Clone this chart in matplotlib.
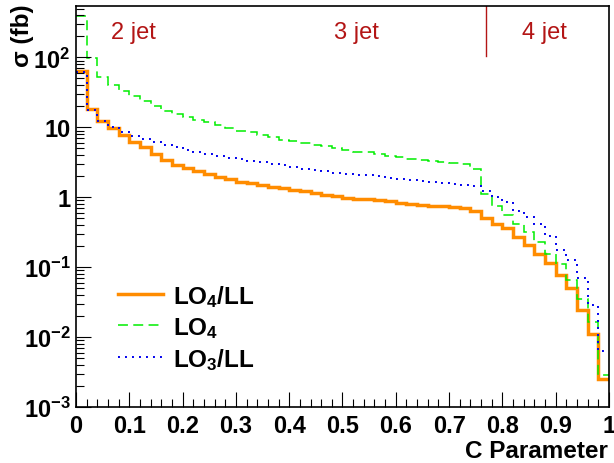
import numpy as np
import matplotlib
matplotlib.use("Agg")
import matplotlib.pyplot as plt
from matplotlib.ticker import FixedLocator, MultipleLocator, LogLocator, NullFormatter

plt.rcParams['font.family'] = ['Liberation Sans', 'DejaVu Sans']
plt.rcParams['font.weight'] = 'bold'
plt.rcParams['mathtext.fontset'] = 'custom'
plt.rcParams['mathtext.bf'] = 'Liberation Sans:bold'
plt.rcParams['mathtext.rm'] = 'Liberation Sans:bold'
plt.rcParams['mathtext.default'] = 'bf'

# C parameter histogram, 50 bins of 0.02
edges = np.linspace(0.0, 1.0, 51)

lo4_ll = [64, 18.4, 12.5, 9.8, 7.8, 6.1, 5.2, 4.1, 3.4, 2.94,
          2.6, 2.37, 2.16, 1.98, 1.8, 1.67, 1.6, 1.52, 1.42, 1.34,
          1.29, 1.22, 1.16, 1.09, 1.04, 0.99, 0.96, 0.93, 0.90, 0.87,
          0.84, 0.80, 0.77, 0.76, 0.75, 0.73, 0.71, 0.64, 0.50, 0.42,
          0.36, 0.27, 0.21, 0.156, 0.113, 0.078, 0.050, 0.0247, 0.011, 0.00255]

lo4 = [390, 98, 53, 40.5, 33.6, 28.5, 24.1, 20.5, 17.4, 15.4,
       14.0, 12.9, 11.9, 10.9, 9.8, 9.0, 8.7, 7.8, 7.2, 6.5,
       6.3, 5.9, 5.6, 5.4, 5.1, 4.8, 4.5, 4.4, 4.2, 3.95,
       3.75, 3.55, 3.4, 3.3, 3.2, 3.1, 3.0, 2.55, 1.12, 0.76,
       0.56, 0.42, 0.32, 0.23, 0.156, 0.11, 0.065, 0.035, 0.0165, 0.0029]

lo3_ll = [62, 18, 12.5, 10, 8.5, 7.6, 6.8, 6.1, 5.6, 5.2,
          4.8, 4.5, 4.2, 3.95, 3.7, 3.5, 3.35, 3.2, 3.0, 2.85,
          2.7, 2.55, 2.47, 2.37, 2.25, 2.13, 2.1, 2.05, 2.0, 1.9,
          1.8, 1.77, 1.73, 1.68, 1.62, 1.57, 1.52, 1.45, 1.23, 1.0,
          0.85, 0.63, 0.52, 0.42, 0.275, 0.175, 0.125, 0.070, 0.0285, 0.0063]

jet_labels = ["2 jet", "3 jet", "4 jet"]
jet_pos = [0.107, 0.527, 0.878]
jet_split = 0.77

xticks = [0, 0.1, 0.2, 0.3, 0.4, 0.5, 0.6, 0.7, 0.8, 0.9, 1]
xlabels = ["0", "0.1", "0.2", "0.3", "0.4", "0.5", "0.6", "0.7", "0.8", "0.9", "1"]
yticks = [1e-3, 1e-2, 1e-1, 1, 10, 100]
ylabels = ["$10^{-3}$", "$10^{-2}$", "$10^{-1}$", "1", "10", "$10^{2}$"]

red = "#b31515"
fs = 17

fig = plt.figure(figsize=(6.14, 4.64), dpi=100)
ax = fig.add_axes([0.1238, 0.1207, 0.8680, 0.8643])

ax.stairs(lo4_ll, edges, color="#ff8c00", lw=2.5, label="LO$_4$/LL", baseline=None)
ax.stairs(lo4, edges, color="#00ee00", lw=1.1, ls=(0, (6.5, 3.5)), label="LO$_4$", baseline=None)
ax.stairs(lo3_ll, edges, color="#0000ee", lw=1.4, ls=(0, (1, 2.6)), label="LO$_3$/LL", baseline=None)

ax.set_yscale("log")
ax.set_xlim(0, 1)
ax.set_ylim(1e-3, 545)

ax.set_xticks(xticks)
ax.set_xticklabels(xlabels, fontsize=fs)
ax.xaxis.set_minor_locator(MultipleLocator(0.02))

ax.yaxis.set_major_locator(FixedLocator(yticks))
ax.set_yticklabels(ylabels, fontsize=fs)
ax.yaxis.set_minor_locator(LogLocator(base=10, subs=np.arange(2, 10)))
ax.yaxis.set_minor_formatter(NullFormatter())

ax.tick_params(which="both", direction="in", top=False, right=False, width=0.8)
ax.tick_params(which="major", length=11)
ax.tick_params(which="minor", length=6)
ax.tick_params(axis="x", which="major", pad=5)
ax.tick_params(axis="y", which="major", pad=4)
for s in ax.spines.values():
    s.set_linewidth(1.2)

for lab, xp in zip(jet_labels, jet_pos):
    ax.text(xp, 0.935, lab, transform=ax.transAxes, color=red, fontsize=fs,
            fontweight="normal", ha="center", va="center")
ax.plot([jet_split, jet_split], [0.875, 1.0], transform=ax.transAxes, color=red, lw=1)

fig.text(0.99, 0.014, "C Parameter", ha="right", va="baseline", fontsize=17.5)
fig.text(0.036, 0.99, "σ (fb)", rotation=90, ha="center", va="top", fontsize=17.5)

ax.legend(loc="upper left", bbox_to_anchor=(0.079, 0.31), frameon=False,
          fontsize=17.5, handlelength=1.85, labelspacing=0.25, handletextpad=0.4,
          borderpad=0, borderaxespad=0)

fig.savefig("out.png", dpi=100)
